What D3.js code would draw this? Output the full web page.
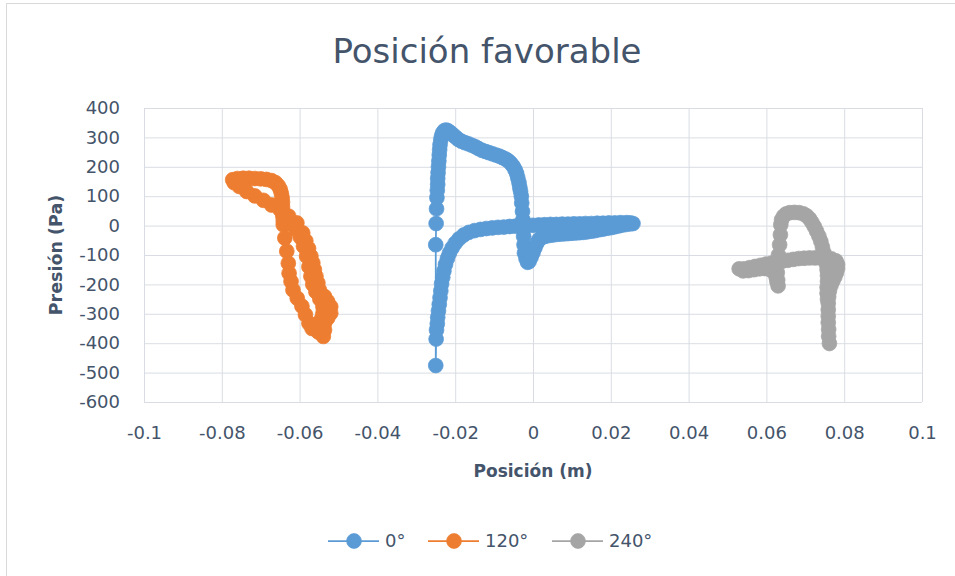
<!DOCTYPE html>
<html lang="es">
<head>
<meta charset="utf-8">
<title>Posición favorable</title>
<script src="https://cdn.jsdelivr.net/npm/d3@7/dist/d3.min.js"></script>
<style>
  html, body { margin: 0; padding: 0; background: #ffffff; }
  svg { display: block; }
  text { font-family: "DejaVu Sans", "Liberation Sans", sans-serif; }
</style>
</head>
<body>
<svg id="chart" width="955" height="576"></svg>
<script>
// Presión frente a posición para tres orientaciones (0°, 120°, 240°)
const title = "Posición favorable";
const xTitle = "Posición (m)";
const yTitle = "Presión (Pa)";

const seriesNames = ["0°", "120°", "240°"];
const seriesColors = ["#5B9BD5", "#ED7D31", "#A5A5A5"];

const xTicks = [-0.1, -0.08, -0.06, -0.04, -0.02, 0, 0.02, 0.04, 0.06, 0.08, 0.1];
const xTickLabels = ["-0.1", "-0.08", "-0.06", "-0.04", "-0.02", "0", "0.02", "0.04", "0.06", "0.08", "0.1"];
const yTicks = [400, 300, 200, 100, 0, -100, -200, -300, -400, -500, -600];
const yTickLabels = ["400", "300", "200", "100", "0", "-100", "-200", "-300", "-400", "-500", "-600"];

// [posición (m), presión (Pa)] en orden de registro
const serie0 = [
  [-0.0249,-386],[-0.0250,-476],
  [-0.0250,-65],[-0.0249,7],[-0.0248,57],[-0.0247,95],[-0.0246,120],[-0.0245,140],[-0.0245,160],[-0.0244,180],
  [-0.0243,200],[-0.0242,220],[-0.0241,240],[-0.0240,258],[-0.0239,275],[-0.0237,292],[-0.0235,305],[-0.0232,316],
  [-0.0228,323],[-0.0223,325],
  [-0.0218,322],[-0.0212,316],[-0.0206,309],[-0.0199,301],[-0.0192,293],[-0.0184,287],[-0.0175,282],[-0.0166,278],
  [-0.0157,273],[-0.0148,268],[-0.0140,262],[-0.0131,256],[-0.0122,252],[-0.0113,248],[-0.0104,244],[-0.0095,240],
  [-0.0086,236],[-0.0078,231],[-0.0070,226],[-0.0063,220],[-0.0057,212],[-0.0051,202],[-0.0046,190],[-0.0042,177],
  [-0.0039,162],[-0.0036,146],[-0.0034,130],[-0.0032,117],[-0.0030,100],[-0.0029,77],
  [-0.0027,48],[-0.0026,20],[-0.0025,-10],[-0.0024,-37],[-0.0023,-65],[-0.0022,-93],[-0.0018,-112],[-0.0014,-125],
  [-0.0010,-122],[-0.0005,-108],[0.0000,-92],[0.0005,-75],[0.0010,-60],[0.0015,-48],
  [0.0022,-41],[0.0030,-37],[0.0040,-34],[0.0050,-32],[0.0060,-30],[0.0070,-29],[0.0080,-28],[0.0090,-27],
  [0.0100,-26],[0.0110,-25],[0.0120,-24],[0.0130,-23],[0.0140,-21],[0.0150,-19],[0.0160,-17],[0.0170,-14],
  [0.0180,-12],[0.0190,-9],[0.0200,-7],[0.0210,-4],[0.0220,-1],[0.0230,2],[0.0240,4],[0.0250,6],[0.0257,7],
  [0.0250,9],[0.0240,10],[0.0225,10],[0.0210,9],[0.0195,9],[0.0180,8],[0.0165,8],[0.0150,7],[0.0135,7],[0.0120,6],
  [0.0105,6],[0.0090,5],[0.0075,5],[0.0060,4],[0.0045,4],[0.0030,3],[0.0015,2],[0.0000,1],[-0.0015,0],
  [-0.0030,-1],[-0.0045,-2],[-0.0060,-3],[-0.0075,-5],[-0.0090,-6],[-0.0105,-8],[-0.0120,-10],[-0.0135,-13],
  [-0.0150,-17],[-0.0165,-23],[-0.0178,-32],
  [-0.0190,-45],[-0.0200,-60],[-0.0208,-76],[-0.0215,-94],[-0.0220,-112],[-0.0225,-132],[-0.0229,-154],
  [-0.0232,-176],[-0.0235,-198],[-0.0237,-222],[-0.0239,-245],[-0.0241,-268],[-0.0243,-290],[-0.0245,-312],
  [-0.0246,-334],[-0.0248,-355]
];

const serie120 = [
  [-0.0539,-377],[-0.0536,-355],[-0.0536,-332],[-0.0528,-315],[-0.0520,-298],[-0.0520,-276],[-0.0528,-258],
  [-0.0536,-241],[-0.0549,-219],[-0.0553,-195],[-0.0558,-172],[-0.0562,-150],[-0.0566,-127],[-0.0571,-104],
  [-0.0577,-78],[-0.0584,-52],[-0.0592,-25],[-0.0607,9],[-0.0628,32],[-0.0650,54],[-0.0672,70],[-0.0693,86],
  [-0.0715,101],[-0.0736,116],[-0.0755,133],[-0.0768,146],[-0.0772,156],
  [-0.0760,160],[-0.0745,161],[-0.0730,161],[-0.0715,160],[-0.0700,159],[-0.0685,157],[-0.0672,153],[-0.0662,146],
  [-0.0655,136],[-0.0650,124],[-0.0647,110],[-0.0645,95],[-0.0644,80],[-0.0644,64],[-0.0643,48],[-0.0643,32],
  [-0.0642,16],[-0.0642,3],
  [-0.0638,-42],[-0.0633,-87],[-0.0629,-128],[-0.0627,-162],[-0.0622,-190],[-0.0617,-219],[-0.0606,-247],
  [-0.0594,-274],[-0.0585,-303],[-0.0576,-332],[-0.0568,-350],
  [-0.0552,-362],[-0.0545,-340],[-0.0545,-320],[-0.0540,-298],[-0.0540,-276],[-0.0548,-250],[-0.0558,-225],
  [-0.0566,-200],[-0.0571,-172],[-0.0576,-140],[-0.0582,-104],[-0.0590,-70],[-0.0598,-40],[-0.0608,-15],
  [-0.0622,5],[-0.0640,25]
];

const serie240 = [
  [0.0762,-401],[0.0760,-376],[0.0760,-353],[0.0759,-330],[0.0759,-308],[0.0759,-286],[0.0759,-264],[0.0760,-242],
  [0.0762,-222],[0.0766,-204],[0.0771,-188],[0.0776,-174],[0.0780,-160],[0.0783,-146],[0.0783,-132],[0.0779,-120],
  [0.0767,-113],[0.0753,-111],[0.0739,-110],[0.0725,-110],[0.0711,-110],[0.0697,-111],[0.0683,-112],[0.0669,-115],
  [0.0655,-118],[0.0641,-121],[0.0627,-124],[0.0613,-128],[0.0599,-131],[0.0585,-135],[0.0571,-139],[0.0557,-143],
  [0.0543,-147],[0.0530,-147],
  [0.0540,-154],[0.0554,-153],[0.0568,-150],[0.0582,-147],[0.0596,-146],[0.0610,-150],[0.0620,-160],[0.0625,-175],
  [0.0627,-190],[0.0630,-205],[0.0629,-185],[0.0628,-160],[0.0629,-130],[0.0631,-100],[0.0634,-65],[0.0636,-31],
  [0.0637,3],
  [0.0639,20],[0.0644,32],[0.0651,40],[0.0660,44],[0.0672,45],[0.0684,44],[0.0695,40],[0.0704,33],[0.0711,23],
  [0.0717,11],[0.0723,-3],[0.0729,-19],[0.0735,-36],[0.0740,-54],[0.0744,-73],[0.0748,-92],[0.0751,-111],
  [0.0754,-130],[0.0756,-150],[0.0757,-170],[0.0757,-190],[0.0756,-210],[0.0756,-230],[0.0757,-250]
];

const allSeries = [serie0, serie120, serie240];

const svg = d3.select("#chart");
const plot = { left: 144, right: 922, top: 108, bottom: 402 };
const textColor = "#44546A";
const gridColor = "#D9DDE3";

const x = d3.scaleLinear().domain([-0.1, 0.1]).range([plot.left, plot.right]);
const y = d3.scaleLinear().domain([-600, 400]).range([plot.bottom, plot.top]);

// Borde del área del gráfico
svg.append("rect")
  .attr("x", 6.5).attr("y", 3.5)
  .attr("width", 980).attr("height", 600)
  .attr("fill", "#ffffff")
  .attr("stroke", "#D9D9D9").attr("stroke-width", 1);

// Título
svg.append("text")
  .attr("x", 487).attr("y", 63)
  .attr("text-anchor", "middle")
  .attr("font-size", 34)
  .attr("fill", textColor)
  .text(title);

// Eje Y con líneas de cuadrícula
const yAxis = svg.append("g")
  .attr("transform", `translate(${plot.left},0)`)
  .call(d3.axisLeft(y)
    .tickValues(yTicks)
    .tickSize(-(plot.right - plot.left))
    .tickPadding(24)
    .tickFormat((d, i) => yTickLabels[i]));

// Eje X con líneas de cuadrícula
const xAxis = svg.append("g")
  .attr("transform", `translate(0,${plot.bottom})`)
  .call(d3.axisBottom(x)
    .tickValues(xTicks)
    .tickSize(-(plot.bottom - plot.top))
    .tickPadding(24)
    .tickFormat((d, i) => xTickLabels[i]));

[yAxis, xAxis].forEach(g => {
  g.select(".domain").remove();
  g.selectAll(".tick line").attr("stroke", gridColor).attr("stroke-width", 1);
  g.selectAll(".tick text")
    .attr("fill", textColor)
    .attr("font-size", 18)
    .attr("font-family", "DejaVu Sans, sans-serif");
});

// Títulos de los ejes
svg.append("text")
  .attr("x", (plot.left + plot.right) / 2).attr("y", 477)
  .attr("text-anchor", "middle")
  .attr("font-size", 17).attr("font-weight", "bold")
  .attr("fill", textColor)
  .text(xTitle);

svg.append("text")
  .attr("transform", `translate(62,${(plot.top + plot.bottom) / 2}) rotate(-90)`)
  .attr("text-anchor", "middle")
  .attr("font-size", 17.5).attr("font-weight", "bold")
  .attr("fill", textColor)
  .text(yTitle);

// Series: línea fina y marcadores circulares
const line = d3.line().x(d => x(d[0])).y(d => y(d[1]));
const markerR = 7.4;

allSeries.forEach((data, i) => {
  const g = svg.append("g").attr("class", "serie");
  g.append("path")
    .datum(data)
    .attr("d", line)
    .attr("fill", "none")
    .attr("stroke", seriesColors[i])
    .attr("stroke-width", 1.75)
    .attr("stroke-linejoin", "round");
  g.selectAll("circle")
    .data(data)
    .join("circle")
    .attr("cx", d => x(d[0]))
    .attr("cy", d => y(d[1]))
    .attr("r", markerR)
    .attr("fill", seriesColors[i])
    .attr("stroke", seriesColors[i])
    .attr("stroke-width", 0.75);
});

// Leyenda
const legendItems = [
  { name: seriesNames[0], color: seriesColors[0], x: 328 },
  { name: seriesNames[1], color: seriesColors[1], x: 428 },
  { name: seriesNames[2], color: seriesColors[2], x: 552 }
];
const legendY = 541;
const legend = svg.append("g");
legendItems.forEach(item => {
  const g = legend.append("g").attr("transform", `translate(${item.x},${legendY})`);
  g.append("line")
    .attr("x1", 0).attr("x2", 51)
    .attr("y1", 0).attr("y2", 0)
    .attr("stroke", item.color).attr("stroke-width", 1.75);
  g.append("circle")
    .attr("cx", 26).attr("cy", 0).attr("r", markerR)
    .attr("fill", item.color).attr("stroke", item.color).attr("stroke-width", 0.75);
  g.append("text")
    .attr("x", 57).attr("y", 0).attr("dy", "0.35em")
    .attr("font-size", 18)
    .attr("fill", textColor)
    .text(item.name);
});
</script>
</body>
</html>
